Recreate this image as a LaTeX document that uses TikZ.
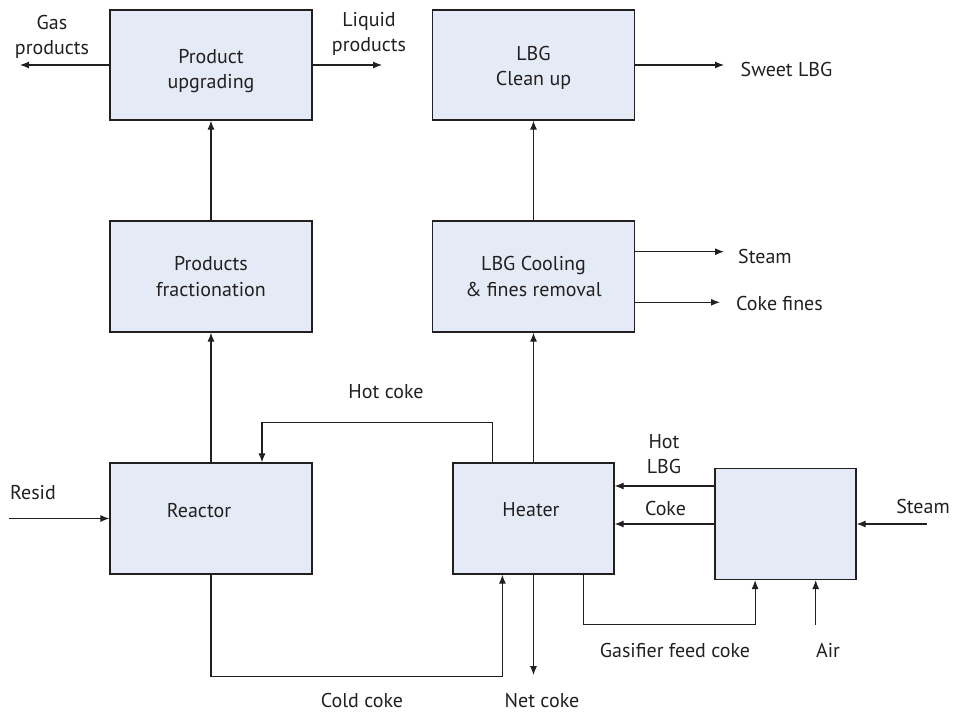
\documentclass[tikz,border=0pt]{standalone}
\usepackage{fontspec}
\setmainfont{PT Sans}
\usetikzlibrary{arrows.meta}
\definecolor{boxfill}{RGB}{229,235,246}
\definecolor{ink}{RGB}{35,31,32}
\begin{document}
\begin{tikzpicture}[x=1pt,y=-1pt,
  every node/.style={font=\fontsize{20}{25.5}\selectfont, text=ink, inner sep=0pt},
  unit/.style={draw=ink, line width=1.2pt, fill=boxfill, minimum width=#1, align=center},
  unit/.default=202pt,
  lbl/.style={align=center},
  arr/.style={draw=ink, line width=1.1pt, -{Latex[length=9pt,width=7pt]}},
  ln/.style={draw=ink, line width=1.1pt}
]
\useasboundingbox (0,0) rectangle (955,713);
% boxes
\node[unit, minimum height=110pt] (upg) at (211,65) {};
\node[lbl] (upglbl) at (211,71) {Product\\upgrading};
\node[unit, minimum height=111pt] (frac) at (211,276.5) {Products\\fractionation};
\node[unit, minimum height=110pt] (clean) at (533.5,65) {};
\node[lbl] (cleanlbl) at (533.5,68) {LBG\\Clean up};
\node[unit, minimum height=111pt] (cool) at (533.5,276.5) {LBG Cooling\\\& fines removal};
\node[unit, minimum height=111pt] (reactor) at (211,518.5) {};
\node[lbl] (reactorlbl) at (199,511) {Reactor};
\node[unit=161pt, minimum height=111pt] (heater) at (533.5,518.5) {};
\node[lbl] (heaterlbl) at (531,510) {Heater};
\node[unit=141pt, minimum height=111pt] (gas) at (785.5,524) {};
% free ends
\coordinate (gasend) at (20,65);
\coordinate (liqend) at (382,65);
\coordinate (sweetend) at (724,65);
\coordinate (steamend) at (724,251.7);
\coordinate (finesend) at (720,302.3);
\coordinate (residstart) at (9,518.5);
\coordinate (steamstart) at (927,524);
\coordinate (airstart) at (815.7,625);
% connectors
\draw[arr] (frac) -- (upg);
\draw[arr] (reactor) -- (frac);
\draw[arr] (cool) -- (clean);
\draw[arr] (heater) -- (cool);
\draw[arr] (upg.west) -- (gasend);
\draw[arr] (upg.east) -- (liqend);
\draw[arr] (clean.east) -- (sweetend);
\draw[arr] ([yshift=24.8pt]cool.east) -- (steamend);
\draw[arr] ([yshift=-25.8pt]cool.east) -- (finesend);
\draw[arr] ([xshift=40pt]heater.north west) -- ++(0,-40) -| ([xshift=51pt]reactor.north);
\draw[arr] (reactor.south) -- ++(0,101.5) -| ([xshift=50pt]heater.south west);
\draw[arr] (heater.south) -- ++(0,100.5);
\draw[arr] ([xshift=131pt]heater.south west) -- ++(0,50) -| ([xshift=40.7pt]gas.south west);
\draw[arr] (airstart) -- (airstart |- gas.south);
\draw[arr] (steamstart) -- (gas.east);
\draw[arr] ([yshift=38pt]gas.west) -- ([yshift=38pt]gas.west -| heater.east);
\draw[arr] (gas.west) -- (gas.west -| heater.east);
\draw[arr] (residstart) -- (reactor.west);
% labels
\node[lbl] (lgas) at (52,37) {Gas\\products};
\node[lbl] (lliq) at (369,34) {Liquid\\products};
\node[lbl, anchor=west] (lsweet) at (740.5,69) {Sweet LBG};
\node[lbl, anchor=west] (lsteam1) at (738,256) {Steam};
\node[lbl, anchor=west] (lfines) at (736,303) {Coke fines};
\node[lbl] (lhotcoke) at (386,391.5) {Hot coke};
\node[lbl] (lresid) at (33,492.5) {Resid};
\node[lbl] (lhotlbg) at (664,454) {Hot\\LBG};
\node[lbl] (lcoke) at (665.5,508) {Coke};
\node[lbl] (lsteam2) at (923,506) {Steam};
\node[lbl] (lfeed) at (675,650) {Gasifier feed coke};
\node[lbl] (lair) at (828,650) {Air};
\node[lbl] (lcold) at (362,700) {Cold coke};
\node[lbl] (lnet) at (542,700) {Net coke};
\end{tikzpicture}
\end{document}
